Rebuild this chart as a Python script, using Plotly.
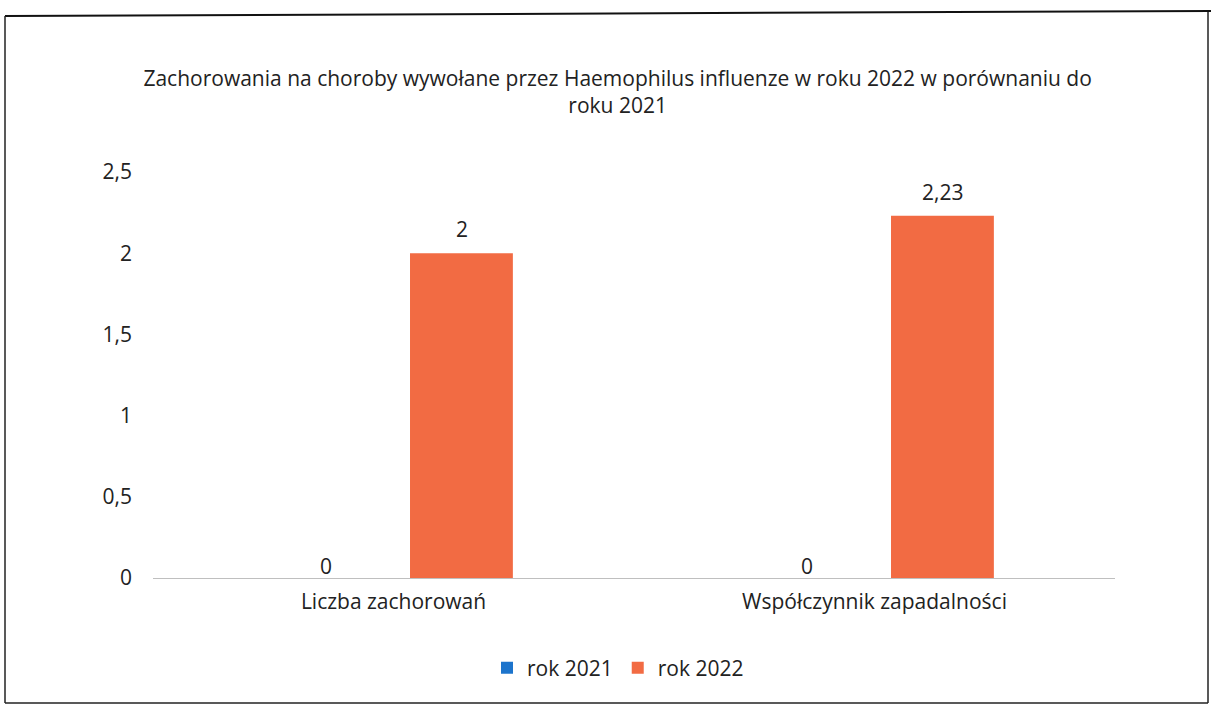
import plotly.graph_objects as go

categories = ["Liczba zachorowań", "Współczynnik zapadalności"]
series_names = ["rok 2021", "rok 2022"]
values_2021 = [0, 0]
values_2022 = [2, 2.23]
colors = ["#1C74CC", "#F26B43"]
y_ticks = [0, 0.5, 1, 1.5, 2, 2.5]
y_ticklabels = ["0", "0,5", "1", "1,5", "2", "2,5"]
title_text = "Zachorowania na choroby wywołane przez Haemophilus influenze w roku 2022 w porównaniu do<br>roku 2021"

W, H = 1211, 704
L, R, T, B = 153, 96, 172, 126
PW, PH = W - L - R, H - T - B
FONT = "'Open Sans', Lato, sans-serif"
TXT = "#222222"

def px(x):
    return (x - L) / PW

def py(y):
    return (H - B - y) / PH

fig = go.Figure()
for name, vals, col in zip(series_names, [values_2021, values_2022], colors):
    fig.add_trace(go.Bar(
        x=categories, y=vals, name=name, marker=dict(color=col, line=dict(width=0)),
        offsetgroup=name,
    ))

# data labels (placed above each bar, computed from the data)
bar_shift = {0: -0.5, 1: 0.5}
for si, vals in enumerate([values_2021, values_2022]):
    for ci, v in enumerate(vals):
        fig.add_annotation(
            x=ci, y=v, xref="x", yref="y",
            text=f"{v:g}".replace(".", ","), showarrow=False,
            xshift=bar_shift[si] * 136, yshift=(24 if v else 12), yanchor="middle",
            font=dict(size=21, color=TXT, family=FONT),
        )

fig.update_layout(
    width=W, height=H,
    margin=dict(l=L, r=R, t=T, b=B),
    paper_bgcolor="white", plot_bgcolor="white",
    separators=", ",
    barmode="group", bargap=0.435, bargroupgap=0.243,
    title=dict(text=title_text, x=0.51, xanchor="center", y=1 - 86 / H, yanchor="middle",
               font=dict(size=21, color=TXT, family=FONT)),
    font=dict(family=FONT, size=18, color=TXT),
    xaxis=dict(showgrid=False, showline=True, linecolor="#BFBFBF", linewidth=1,
               ticks="", tickfont=dict(size=21, color=TXT), ticklabelstandoff=5),
    yaxis=dict(range=[0, 2.5], tickvals=y_ticks, ticktext=y_ticklabels, showgrid=False,
               zeroline=False, showline=False, ticks="",
               tickfont=dict(size=21, color=TXT), ticklabelstandoff=20),
    legend=dict(orientation="h", x=px(618), xanchor="center", y=py(668), yanchor="middle",
                font=dict(size=21, color=TXT), itemwidth=30, traceorder="normal"),
    shapes=[
        dict(type="line", xref="paper", yref="paper", x0=px(5), x1=px(1211), y0=py(16), y1=py(11),
             line=dict(color="#111111", width=2)),
        dict(type="line", xref="paper", yref="paper", x0=px(5), x1=px(5), y0=py(16), y1=py(703),
             line=dict(color="#222222", width=1.5)),
        dict(type="line", xref="paper", yref="paper", x0=px(1208), x1=px(1208), y0=py(12), y1=py(703),
             line=dict(color="#222222", width=1.5)),
        dict(type="line", xref="paper", yref="paper", x0=px(5), x1=px(1208), y0=py(703), y1=py(703),
             line=dict(color="#222222", width=1.5)),
    ],
)

fig.write_html("out.html", config={"displayModeBar": False},
               post_script="document.body.style.margin='0';document.body.style.overflow='hidden';")
